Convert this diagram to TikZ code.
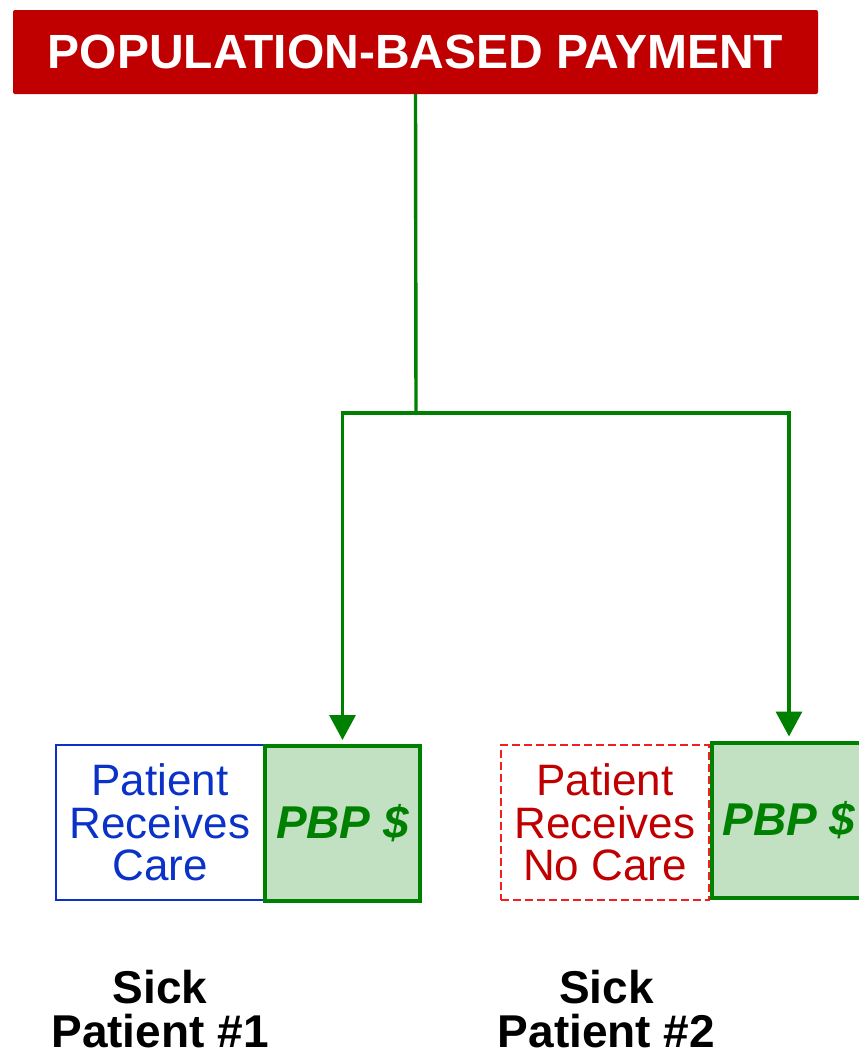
\documentclass[tikz,border=0pt]{standalone}
\usepackage{fontspec}
\setmainfont{Liberation Sans}
\usetikzlibrary{arrows.meta, positioning}
\definecolor{pbpred}{HTML}{C00000}
\definecolor{pbpgreen}{HTML}{008000}
\definecolor{pbpfill}{HTML}{C2E0C2}
\definecolor{careblue}{HTML}{0A32C8}
\definecolor{dashred}{HTML}{F02020}

\begin{document}
\begin{tikzpicture}[x=1pt, y=-1pt,
  titlebox/.style={fill=pbpred, rounded corners=2pt, minimum width=805pt, minimum height=84pt,
    text=white, font=\fontsize{48}{50}\selectfont\bfseries},
  carebox/.style={draw=careblue, line width=1.3pt, minimum width=208pt, minimum height=155pt,
    text=careblue, align=center, inner sep=0pt, font=\fontsize{44}{42.5}\selectfont},
  nocarebox/.style={carebox, draw=dashred, dash pattern=on 8pt off 4pt, text=pbpred},
  pbpbox/.style={draw=pbpgreen, fill=pbpfill, line width=4pt, minimum width=155pt, minimum height=155pt,
    text=pbpgreen, font=\fontsize{46}{48}\selectfont\bfseries\itshape},
  sicklbl/.style={align=center, font=\fontsize{46}{44}\selectfont\bfseries},
  link/.style={draw=pbpgreen, line width=3.4pt},
  arr/.style={link, -{Triangle[width=26pt, length=25pt]}, shorten >=4pt}
]
  \useasboundingbox (0,0) rectangle (859,1050);

  %% Top
  \node[titlebox] (pbp) at (415.5,52) {POPULATION-BASED PAYMENT};
  \coordinate (split) at (416,413);

  %% Patient #1
  \node[carebox] (care1) at (160,822.5) {Patient\\Receives\\Care};
  \node[pbpbox] (pay1) at (342.5,823.5) {\raisebox{4pt}{PBP \$}};
  \node[sicklbl] (sick1) at (160,1009) {Sick\\Patient \#1};

  %% Patient #2
  \node[nocarebox] (care2) at (605,822.5) {Patient\\Receives\\No Care};
  \node[pbpbox] (pay2) at (789,820) {\raisebox{4pt}{PBP \$}};
  \node[sicklbl] (sick2) at (606.5,1009) {Sick\\Patient \#2};

  %% Payment flow
  \draw[link] (pbp.south) -- (split);
  \draw[arr] (split) -| (pay1.north);
  \draw[arr] (split) -| (pay2.north);

\end{tikzpicture}
\end{document}
